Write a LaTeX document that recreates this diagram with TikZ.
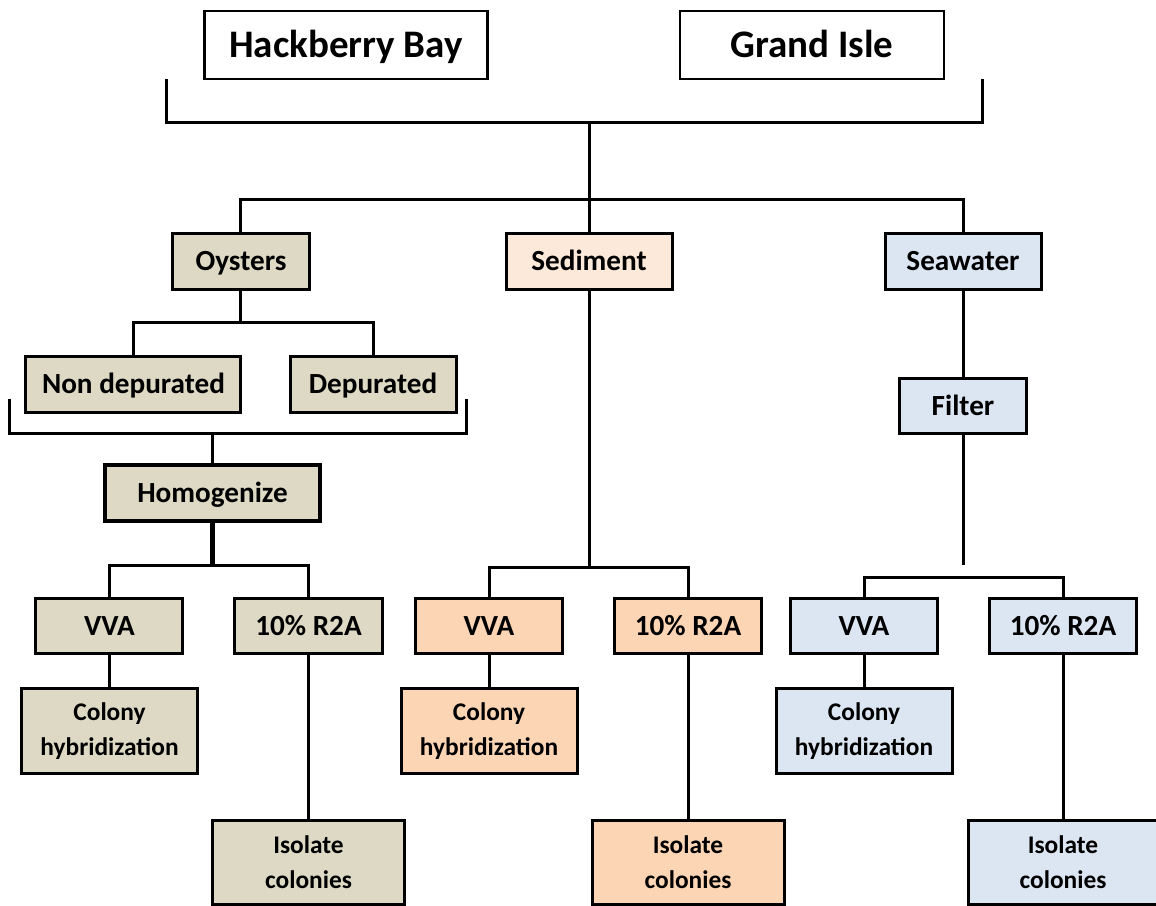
\documentclass[tikz,border=0pt]{standalone}
\usepackage{fontspec}
\setmainfont{Carlito}
\usepackage{xcolor}
\usepackage{tikz}
\usetikzlibrary{positioning}

\definecolor{oysfill}{HTML}{DDD9C4}
\definecolor{sedlight}{HTML}{FDE9D9}
\definecolor{sedfill}{HTML}{FCD5B5}
\definecolor{seafill}{HTML}{DCE6F2}

\begin{document}
\begin{tikzpicture}[
    site/.style={rectangle, draw=black, fill=white, line width=1.4pt, outer sep=0pt,
                 minimum height=34pt, text height=12.6pt, text depth=0pt,
                 font=\fontsize{19.5}{23}\selectfont\bfseries},
    sample/.style={rectangle, draw=black, line width=1.5pt, outer sep=0pt,
                   minimum height=28pt, text height=9.4pt, text depth=0pt,
                   font=\fontsize{14.6}{17}\selectfont\bfseries},
    medium/.style={sample, minimum width=73.5pt, minimum height=27.5pt},
    result/.style={rectangle, draw=black, line width=1.5pt, outer sep=0pt, minimum height=42.5pt,
                   align=center, font=\fontsize{12.7}{17.5}\selectfont\bfseries},
    link/.style={draw=black, line width=1.5pt}
]
\useasboundingbox (-173pt,22.5pt) rectangle (405pt,-430pt);

% Sampling sites
\node[site, minimum width=141.5pt] (hack) {Hackberry Bay};
\node[site, minimum width=132pt, right=96.25pt of hack] (grand) {Grand Isle};

% Sample types
\node[sample, fill=sedlight, minimum width=83pt, below right=77pt and 80pt of hack.south] (sediment) {Sediment};
\node[sample, fill=oysfill, minimum width=68.5pt, left=98.25pt of sediment] (oysters) {Oysters};
\node[sample, fill=seafill, minimum width=78pt, right=106.5pt of sediment] (seawater) {Seawater};

% Oyster processing
\node[sample, fill=oysfill, minimum width=107.5pt, below left=33.5pt and 0pt of oysters.south] (nondep) {Non depurated};
\node[sample, fill=oysfill, minimum width=83pt, below right=33.5pt and 24.5pt of oysters.south] (dep) {Depurated};
\node[sample, fill=oysfill, minimum width=107.5pt, line width=2.2pt, below right=26.5pt and -14.25pt of nondep.south] (homog) {Homogenize};

% Seawater processing
\node[sample, fill=seafill, minimum width=63.5pt, minimum height=27.5pt, below=44.75pt of seawater] (filter) {Filter};

% Plating media
\node[medium, fill=oysfill, below left=38.75pt and 14.75pt of homog.south] (ovva) {VVA};
\node[medium, fill=oysfill, below right=38.75pt and 11.25pt of homog.south] (or2a) {10\% R2A};
\node[medium, fill=sedfill, below left=154.75pt and 13.25pt of sediment.south] (svva) {VVA};
\node[medium, fill=sedfill, below right=154.75pt and 12.75pt of sediment.south] (sr2a) {10\% R2A};
\node[medium, fill=seafill, below left=82.5pt and 12.75pt of filter.south] (wvva) {VVA};
\node[medium, fill=seafill, below right=82.5pt and 13.25pt of filter.south] (wr2a) {10\% R2A};

% Analyses
\node[result, fill=oysfill, minimum width=88pt, below=17.5pt of ovva] (ocol) {Colony\\hybridization};
\node[result, fill=sedfill, minimum width=88pt, below=17.5pt of svva] (scol) {Colony\\hybridization};
\node[result, fill=seafill, minimum width=88pt, below=17.5pt of wvva] (wcol) {Colony\\hybridization};
\node[result, fill=oysfill, minimum width=96pt, minimum height=42pt, below=83.25pt of or2a] (oiso) {Isolate\\colonies};
\node[result, fill=sedfill, minimum width=96pt, minimum height=42pt, below=83.25pt of sr2a] (siso) {Isolate\\colonies};
\node[result, fill=seafill, minimum width=95pt, minimum height=42pt, below=83.25pt of wr2a] (wiso) {Isolate\\colonies};

% Site bracket
\coordinate[left=19pt of hack.south west] (topL);
\coordinate[right=19pt of grand.south east] (topR);
\coordinate[above=55.5pt of sediment.north] (topJ);
\draw[link] (topL) |- (topJ) -| (topR);
\draw[link] (topJ) -- (sediment.north);
\coordinate[above=17pt of sediment.north] (typeJ);
\draw[link] (oysters.north) |- (typeJ) -| (seawater.north);

% Oyster branch
\coordinate[below=16.5pt of oysters.south] (oysJ);
\draw[link] (oysters.south) -- (oysJ);
\draw[link] (nondep.north) |- (oysJ) -| (dep.north);
\coordinate[above left=6.5pt and 8pt of nondep.south west] (depL);
\coordinate[above right=6.5pt and 5pt of dep.south east] (depR);
\coordinate[above=16pt of homog.north] (homJ);
\draw[link] (depL) |- (homJ) -| (depR);
\draw[link] (homJ) -- (homog.north);
\coordinate[below=22pt of homog.south] (medJ);
\draw[link, line width=2.8pt] (homog.south) -- (medJ);
\draw[link] (ovva.north) |- (medJ) -| (or2a.north);

% Sediment branch
\coordinate[below=139pt of sediment.south] (sedJ);
\draw[link] (sediment.south) -- (sedJ);
\draw[link] (svva.north) |- (sedJ) -| (sr2a.north);

% Seawater branch
\draw[link] (seawater.south) -- (filter.north);
\coordinate[below=65.75pt of filter.south] (filEnd);
\draw[link] (filter.south) -- (filEnd);
\coordinate[below=6pt of filEnd] (seaJ);
\draw[link] (wvva.north) |- (seaJ) -| (wr2a.north);

% Media to analyses
\draw[link] (ovva) -- (ocol);
\draw[link] (or2a) -- (oiso);
\draw[link] (svva) -- (scol);
\draw[link] (sr2a) -- (siso);
\draw[link] (wvva) -- (wcol);
\draw[link] (wr2a) -- (wiso);

\end{tikzpicture}
\end{document}
